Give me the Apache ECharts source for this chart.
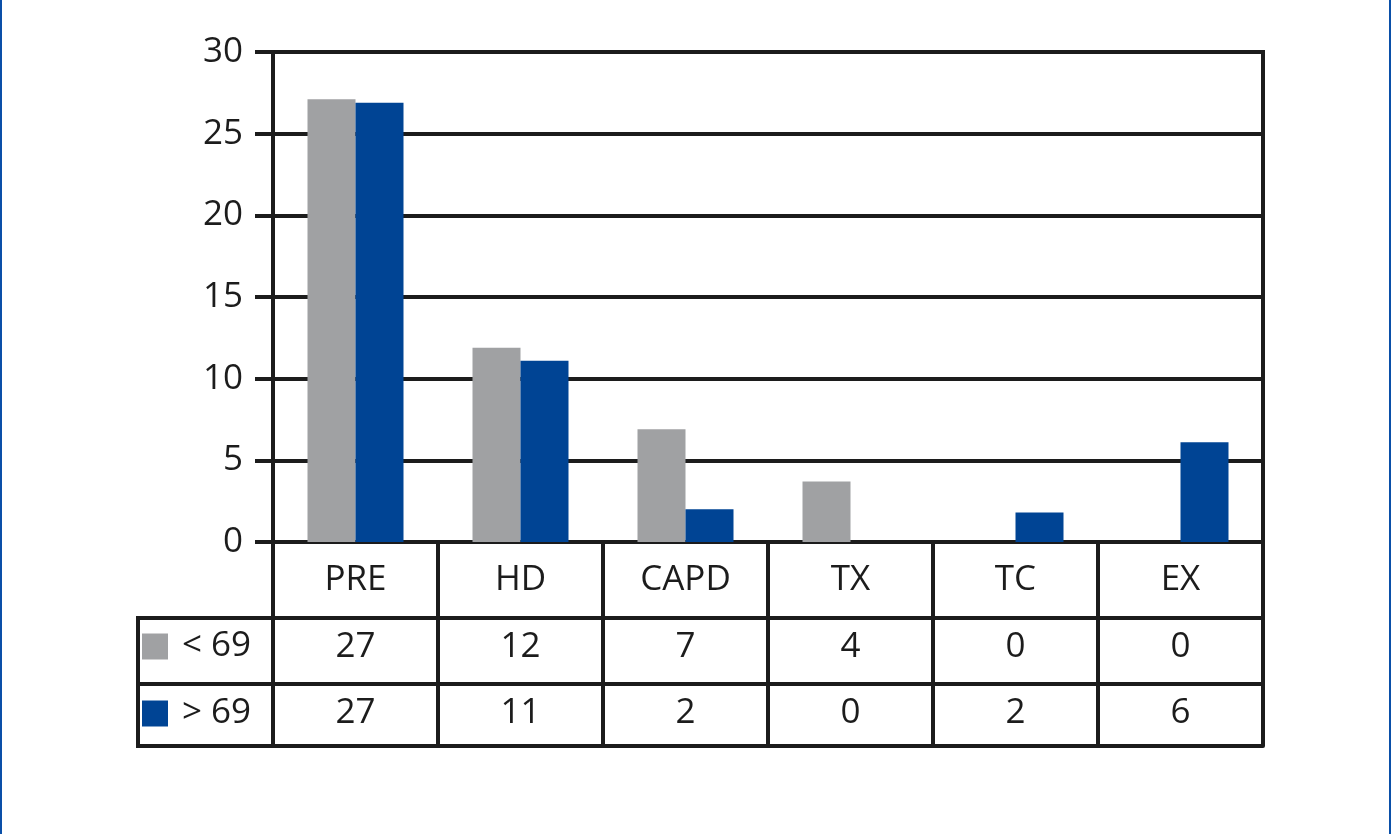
<!DOCTYPE html>
<html>
<head>
<meta charset="utf-8">
<script src="https://cdn.jsdelivr.net/npm/echarts@6/dist/echarts.min.js"></script>
<style>
html,body{margin:0;padding:0;background:#fff;}
#frame{position:absolute;left:0;top:0;width:1387px;height:834px;border-left:2px solid #0a4fa8;border-right:2px solid #0a4fa8;}
#chart{position:absolute;left:0;top:0;width:1391px;height:834px;}
</style>
</head>
<body>
<div id="frame"></div>
<div id="chart"></div>
<script>
const categories = ['PRE', 'HD', 'CAPD', 'TX', 'TC', 'EX'];
const seriesNames = ['< 69', '> 69'];
// bar heights as drawn
const barsUnder69 = [27.1, 11.9, 6.9, 3.7, 0, 0];
const barsOver69 = [26.9, 11.1, 2.0, 0, 1.8, 6.1];
// values printed in the data table
const tableUnder69 = [27, 12, 7, 4, 0, 0];
const tableOver69 = [27, 11, 2, 0, 2, 6];
const yTicks = [0, 5, 10, 15, 20, 25, 30];

const INK = '#1c1c1c';
const GRAY = '#a0a1a3';
const BLUE = '#004494';
const FONT = 'Open Sans';
const FS = 35;
const LW = 4;

const chart = echarts.init(document.getElementById('chart'), null, {renderer: 'canvas'});

function tableAxis(offset, tickLen, labels, margin) {
  return {
    type: 'category',
    data: categories,
    position: 'bottom',
    offset: offset,
    boundaryGap: true,
    axisLine: {show: true, lineStyle: {color: INK, width: LW}},
    axisTick: {show: tickLen > 0, length: tickLen, interval: 0, lineStyle: {color: INK, width: LW}},
    axisLabel: {
      show: !!labels,
      interval: 0,
      margin: margin,
      verticalAlign: 'middle',
      fontFamily: FONT,
      fontSize: FS,
      color: INK,
      formatter: labels ? function (v, i) { return String(labels[i]); } : undefined
    },
    splitLine: {show: false}
  };
}

chart.setOption({
  animation: false,
  backgroundColor: 'transparent',
  grid: {left: 273, top: 52, width: 990, height: 490, show: true, borderColor: INK, borderWidth: LW, backgroundColor: 'transparent'},
  legend: {
    orient: 'vertical',
    left: 142, top: 629,
    padding: 0,
    itemWidth: 26, itemHeight: 26, itemGap: 32,
    icon: 'rect',
    selectedMode: false,
    textStyle: {fontFamily: FONT, fontSize: FS, color: INK, padding: [0, 0, 0, 9]},
    data: seriesNames
  },
  xAxis: [
    tableAxis(0, 76, categories, 38),
    tableAxis(76, 66, tableUnder69, 29),
    tableAxis(142, 62, tableOver69, 29),
    tableAxis(204, 0, null, 0)
  ],
  yAxis: {
    type: 'value',
    min: yTicks[0], max: yTicks[yTicks.length - 1], interval: 5,
    axisLine: {show: true, lineStyle: {color: INK, width: LW}},
    axisTick: {show: true, length: 18, lineStyle: {color: INK, width: LW}},
    axisLabel: {margin: 30, fontFamily: FONT, fontSize: FS, color: INK},
    splitLine: {show: true, lineStyle: {color: INK, width: LW}}
  },
  series: [
    {name: seriesNames[0], type: 'bar', data: barsUnder69, barWidth: 48, barGap: '0%', itemStyle: {color: GRAY}, xAxisIndex: 0},
    {name: seriesNames[1], type: 'bar', data: barsOver69, barWidth: 48, barGap: '0%', itemStyle: {color: BLUE}, xAxisIndex: 0}
  ],
  graphic: [
    {type: 'line', shape: {x1: 136, y1: 618, x2: 273, y2: 618}, style: {stroke: INK, lineWidth: LW}},
    {type: 'line', shape: {x1: 136, y1: 684, x2: 273, y2: 684}, style: {stroke: INK, lineWidth: LW}},
    {type: 'line', shape: {x1: 136, y1: 746, x2: 273, y2: 746}, style: {stroke: INK, lineWidth: LW}},
    {type: 'line', shape: {x1: 138, y1: 616, x2: 138, y2: 748}, style: {stroke: INK, lineWidth: LW}}
  ]
});
</script>
</body>
</html>
